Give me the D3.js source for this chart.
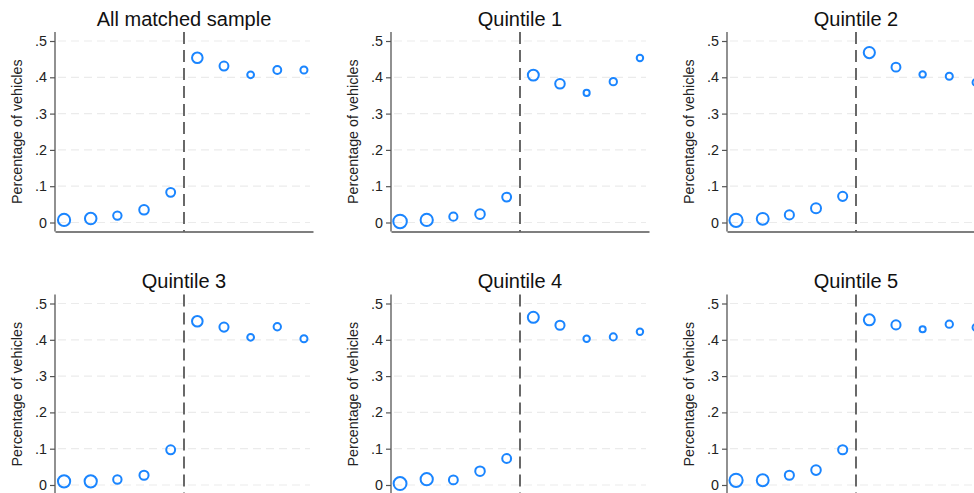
<!DOCTYPE html>
<html>
<head>
<meta charset="utf-8">
<script src="https://cdn.jsdelivr.net/npm/d3@7/dist/d3.min.js"></script>
<style>
  html, body { margin: 0; padding: 0; background: #fff; overflow: hidden; }
  svg { display: block; font-family: "Liberation Sans", Arial, sans-serif; }
</style>
</head>
<body>
<svg id="chart" width="974" height="493"></svg>
<script>
// ---- Data ----
const panelTitles = ["All matched sample", "Quintile 1", "Quintile 2", "Quintile 3", "Quintile 4", "Quintile 5"];
const bins = [1, 2, 3, 4, 5, 6, 7, 8, 9, 10];
const cutoff = 5.5;
const yTicks = [0, 0.1, 0.2, 0.3, 0.4, 0.5];
const yTickLabels = ["0", ".1", ".2", ".3", ".4", ".5"];
const yTitle = "Percentage of vehicles";

// share of vehicles per bin
const valuesAll = [0.007, 0.011, 0.019, 0.035, 0.083, 0.454, 0.431, 0.407, 0.420, 0.420];
const valuesQ1  = [0.003, 0.007, 0.016, 0.023, 0.070, 0.406, 0.382, 0.357, 0.388, 0.453];
const valuesQ2  = [0.006, 0.010, 0.021, 0.039, 0.072, 0.468, 0.428, 0.408, 0.403, 0.386];
const valuesQ3  = [0.010, 0.010, 0.015, 0.027, 0.097, 0.451, 0.435, 0.407, 0.436, 0.403];
const valuesQ4  = [0.004, 0.016, 0.014, 0.038, 0.073, 0.462, 0.440, 0.403, 0.408, 0.422];
const valuesQ5  = [0.013, 0.013, 0.027, 0.041, 0.097, 0.455, 0.441, 0.429, 0.443, 0.434];

// relative number of observations per bin (marker weight)
const weightsAll = [36, 32, 17, 22, 19, 27, 19, 11, 15, 12];
const weightsQ1  = [44, 36, 16, 22, 19, 29, 22, 9, 13, 10];
const weightsQ2  = [42, 34, 20, 24, 20, 30, 19, 10, 12, 11];
const weightsQ3  = [36, 36, 17, 20, 19, 27, 20, 11, 13, 12];
const weightsQ4  = [40, 36, 19, 22, 19, 29, 20, 10, 12, 10];
const weightsQ5  = [42, 34, 20, 22, 20, 29, 20, 9, 13, 11];

const panelValues = [valuesAll, valuesQ1, valuesQ2, valuesQ3, valuesQ4, valuesQ5];
const panelWeights = [weightsAll, weightsQ1, weightsQ2, weightsQ3, weightsQ4, weightsQ5];

// ---- Layout ----
const svg = d3.select("#chart");
const colStep = 336, rowStep = 262.5;
const plotLeft0 = 55, plotTop0 = 32;
const plotW = 258, plotH = 199.5;
const markerColor = "#1a85ff";

const x = d3.scaleLinear().domain([0.66, 10.34]).range([0, plotW]);
const y = d3.scaleLinear().domain([-0.0248, 0.5248]).range([plotH, 0]);
const r = d3.scaleSqrt().domain([0, 100]).range([0, 10.2]);

panelTitles.forEach((title, i) => {
  const col = i % 3, row = Math.floor(i / 3);
  const g = svg.append("g")
    .attr("transform", `translate(${plotLeft0 + col * colStep},${plotTop0 + row * rowStep})`);

  // gridlines
  g.append("g").selectAll("line").data(yTicks).join("line")
    .attr("x1", 3).attr("x2", plotW - 3)
    .attr("y1", d => y(d)).attr("y2", d => y(d))
    .attr("stroke", "#ebebeb").attr("stroke-width", 1.2)
    .attr("stroke-dasharray", "8,5");

  // y axis
  const yAxis = d3.axisLeft(y).tickValues(yTicks)
    .tickFormat((d, k) => yTickLabels[k]).tickSize(5).tickPadding(3);
  const ya = g.append("g").call(yAxis);
  ya.select(".domain").attr("d", `M0,0V${plotH}`).attr("stroke", "#555").attr("stroke-width", 1.3);
  ya.selectAll(".tick line").attr("stroke", "#555").attr("stroke-width", 1.2);
  ya.selectAll(".tick text").attr("font-size", 14.3).attr("fill", "#222")
    .attr("font-family", "Liberation Sans, Arial, sans-serif");

  // x axis (no ticks)
  const xa = g.append("g").attr("transform", `translate(0,${plotH})`)
    .call(d3.axisBottom(x).tickValues([]).tickSizeOuter(0));
  xa.select(".domain").attr("stroke", "#555").attr("stroke-width", 1.3);

  // cutoff line
  g.append("line")
    .attr("x1", x(cutoff)).attr("x2", x(cutoff))
    .attr("y1", 0).attr("y2", plotH)
    .attr("stroke", "#444").attr("stroke-width", 1.6)
    .attr("stroke-dasharray", "12,6");

  // markers
  const vals = panelValues[i], wts = panelWeights[i];
  g.append("g").selectAll("circle").data(bins).join("circle")
    .attr("cx", d => x(d))
    .attr("cy", (d, k) => y(vals[k]))
    .attr("r", (d, k) => r(wts[k]))
    .attr("fill", "none")
    .attr("stroke", markerColor)
    .attr("stroke-width", 2);

  // title
  g.append("text")
    .attr("x", plotW / 2).attr("y", -6.5)
    .attr("text-anchor", "middle")
    .attr("font-size", 20).attr("fill", "#111")
    .text(title);

  // y title
  g.append("text")
    .attr("transform", `translate(-33,${plotH / 2}) rotate(-90)`)
    .attr("text-anchor", "middle")
    .attr("font-size", 14.3).attr("fill", "#222")
    .text(yTitle);
});
</script>
</body>
</html>
